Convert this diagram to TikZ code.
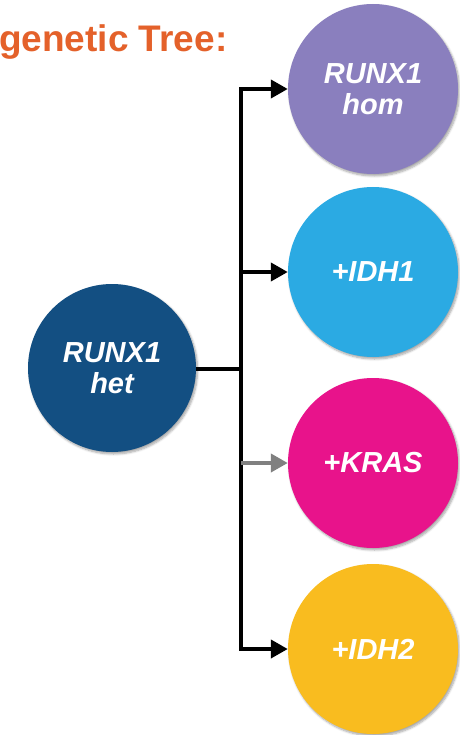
\documentclass[tikz,border=0pt]{standalone}
\usepackage{fontspec}
\setmainfont{Liberation Sans}
\usetikzlibrary{arrows.meta, positioning, shadows, shadows.blur}
\definecolor{treeorange}{HTML}{E4612A}
\definecolor{hetblue}{HTML}{134F82}
\definecolor{homviolet}{HTML}{8A7FBE}
\definecolor{idhcyan}{HTML}{2BAAE3}
\definecolor{krasmagenta}{HTML}{E8138B}
\definecolor{idhyellow}{HTML}{F9BC1F}
\tikzset{
    clone/.style={
        circle, minimum size=170pt, inner sep=0pt, text=white, align=center,
        font=\fontsize{29}{31}\selectfont\bfseries\itshape,
        blur shadow={shadow xshift=1.5pt, shadow yshift=-2pt, shadow blur steps=6, shadow opacity=35}
    },
    branch/.style={line width=4pt, -{Triangle[length=17pt 0,width=18pt 0]}},
    stem/.style={line width=4pt}
}

\begin{document}
\begin{tikzpicture}[x=1pt, y=-1pt]
    \useasboundingbox (0,0) rectangle (459,735);
    \def \tx {241}
    % title
    \node[anchor=base west, inner sep=0pt, text=treeorange,
          font=\fontsize{37}{40}\selectfont\bfseries] (title) at (-1,52) {genetic Tree:};
    % clones
    \node[clone, fill=hetblue, minimum size=168pt] (het) at (112,368) {RUNX1\\het};
    \node[clone, fill=homviolet] (hom) at (373,89) {RUNX1\\hom};
    \node[clone, fill=idhcyan] (idh1) at (373,272) {+IDH1};
    \node[clone, fill=krasmagenta] (kras) at (373,463) {+KRAS};
    \node[clone, fill=idhyellow] (idh2) at (373,649) {+IDH2};
    % tree
    \coordinate (top) at (\tx,89);
    \coordinate (bot) at (\tx,649);
    \coordinate (mid) at (\tx,369);
    \draw[stem] (het.east |- mid) -- (mid);
    \draw[stem, line cap=rect] (top) -- (bot);
    \draw[branch] (top) -- (hom.west);
    \draw[branch] (\tx,272) -- (idh1.west);
    \draw[branch, draw=gray, fill=gray] (\tx,463) -- (kras.west);
    \draw[branch] (bot) -- (idh2.west);
\end{tikzpicture}
\end{document}
